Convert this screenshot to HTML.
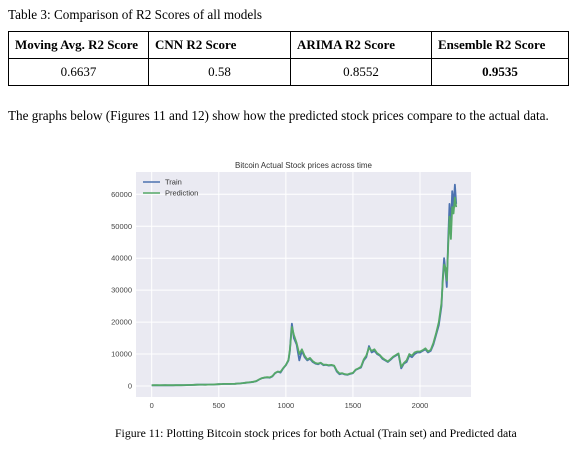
<!DOCTYPE html>
<html><head><meta charset="utf-8">
<style>
body{margin:0;width:578px;height:449px;background:#fff;font-family:"Liberation Serif",serif;color:#000;position:relative;overflow:hidden}
.t{position:absolute;font-size:13.2px;white-space:nowrap}
table{position:absolute;left:8px;top:31px;border-collapse:collapse;font-size:13px;table-layout:fixed}
td{border:1px solid #000;padding:0 6px;height:26px;white-space:nowrap}
</style></head><body>
<div class="t" style="left:8px;top:7px">Table 3: Comparison of R2 Scores of all models</div>
<table>
<tr><td style="width:127px;font-weight:bold">Moving Avg. R2 Score</td><td style="width:129px;font-weight:bold">CNN R2 Score</td><td style="width:128px;font-weight:bold">ARIMA R2 Score</td><td style="width:124px;font-weight:bold">Ensemble R2 Score</td></tr>
<tr><td style="text-align:center">0.6637</td><td style="text-align:center">0.58</td><td style="text-align:center">0.8552</td><td style="text-align:center;font-weight:bold">0.9535</td></tr>
</table>
<div class="t" style="left:8px;top:108px">The graphs below (Figures 11 and 12) show how the predicted stock prices compare to the actual data.</div>
<svg id="chart" style="position:absolute;left:0;top:0" width="578" height="449"></svg>
<div class="t" style="left:115px;top:426px;font-size:11.8px">Figure 11: Plotting Bitcoin stock prices for both Actual (Train set) and Predicted data</div>
<script>
const xs=[0,20,40,60,80,100,120,140,160,180,200,220,240,260,280,300,320,340,360,380,400,420,440,460,480,500,520,540,560,580,600,620,640,660,680,700,720,740,760,780,800,820,840,860,880,900,920,940,960,980,1000,1020,1030,1040,1045,1060,1080,1100,1120,1140,1160,1180,1200,1220,1240,1260,1280,1300,1320,1340,1360,1380,1400,1420,1440,1460,1480,1500,1520,1540,1560,1580,1600,1620,1640,1660,1680,1700,1720,1740,1760,1780,1800,1820,1840,1860,1880,1900,1920,1940,1960,1980,2000,2020,2040,2060,2080,2100,2120,2140,2160,2170,2180,2190,2200,2210,2220,2230,2240,2250,2260,2270];
const train=[200,220,230,200,230,240,230,220,230,240,250,240,260,280,300,320,380,400,420,420,400,430,450,450,500,560,600,650,640,630,650,680,750,800,900,1000,1100,1200,1300,1500,2000,2400,2600,2700,2600,3000,4000,4500,4200,5500,6500,8000,11000,17000,19500,15000,13000,8000,11000,9000,8000,8500,7500,7000,6800,7200,6500,6600,6400,6500,6300,4500,3700,3900,3600,3500,3800,4000,5000,5400,5800,8000,9000,12500,10500,11000,10000,9500,8500,8000,7500,8200,9000,9500,10000,5500,7000,7500,9500,9000,10000,10500,10500,11000,11500,10500,11000,13000,16000,19000,25000,34000,40000,36000,31000,46000,57000,50000,61000,56000,63000,57000];
const pred=[250,250,260,240,250,260,250,250,250,260,270,260,280,300,320,340,390,410,430,430,420,440,460,470,520,570,610,660,660,650,670,700,770,820,920,1020,1120,1220,1350,1550,2050,2450,2650,2750,2700,3100,4100,4500,4400,5600,6600,8200,11500,16000,18500,16000,13500,10000,11500,9500,8300,8800,7800,7200,7000,7300,6700,6700,6500,6600,6400,4800,3900,4000,3700,3600,3900,4100,5100,5500,6000,8300,9500,12000,11000,11500,10300,9700,8800,8200,7700,8400,9200,9700,10200,6000,7200,8000,10000,9500,10500,10800,10800,11200,11800,10800,11300,13500,16500,20000,26000,33000,38000,37000,33000,44000,53000,46000,56000,54000,59000,56000];
const xTicks=[0,500,1000,1500,2000];
const yTicks=[0,10000,20000,30000,40000,50000,60000];
const svg=document.getElementById('chart');const NS='http://www.w3.org/2000/svg';
const L=136,R=471,T=172,B=397;
const X=v=>151.7+v*(268.3/2000);
const Y=v=>386-v*(191.7/60000);
function mk(tag,attrs){const e=document.createElementNS(NS,tag);for(const k in attrs)e.setAttribute(k,attrs[k]);svg.appendChild(e);return e;}
const bg=mk('rect',{x:L,y:T,width:R-L,height:B-T,fill:'#eaeaf2'});


xTicks.forEach(v=>{const g=mk('line',{x1:X(v),x2:X(v),y1:T,y2:B,stroke:'#fff','stroke-width':1});


const t=mk('text',{x:X(v),y:B+11,'font-size':7.5,'text-anchor':'middle',fill:'#444','font-family':'Liberation Sans, sans-serif'});t.textContent=v;

});
yTicks.forEach(v=>{const g=mk('line',{x1:L,x2:R,y1:Y(v),y2:Y(v),stroke:'#fff','stroke-width':1});


const t=mk('text',{x:L-4,y:Y(v)+2.5,'font-size':7.5,'text-anchor':'end',fill:'#444','font-family':'Liberation Sans, sans-serif'});t.textContent=v;

});
function line(arr,color,name){const d=xs.map((x,i)=>(i?'L':'M')+X(x).toFixed(1)+','+Y(arr[i]).toFixed(1)).join('');
const p=mk('path',{d:d,fill:'none',stroke:color,'stroke-width':1.8,'stroke-linejoin':'round'});

}
line(train,'#4c72b0','train-line');
line(pred,'#55a868','prediction-line');
const title=mk('text',{x:(L+R)/2,y:168,'font-size':8,'text-anchor':'middle',fill:'#333','font-family':'Liberation Sans, sans-serif'});title.textContent='Bitcoin Actual Stock prices across time';


[['Train','#4c72b0',182],['Prediction','#55a868',193]].forEach(([n,c,y])=>{
const l=mk('line',{x1:143,x2:160,y1:y,y2:y,stroke:c,'stroke-width':1.5});


const t=mk('text',{x:165,y:y+2.5,'font-size':7.5,fill:'#333','font-family':'Liberation Sans, sans-serif'});t.textContent=n;

});
</script>
</body></html>
